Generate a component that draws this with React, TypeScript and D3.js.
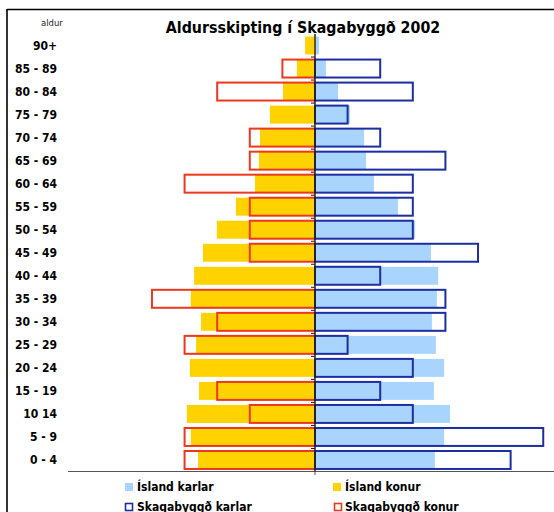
import React from "react";
import * as d3 from "d3";

const categories = ["90+", "85 - 89", "80 - 84", "75 - 79", "70 - 74", "65 - 69", "60 - 64", "55 - 59", "50 - 54", "45 - 49", "40 - 44", "35 - 39", "30 - 34", "25 - 29", "20 - 24", "15 - 19", "10 14", "5 - 9", "0 - 4"];
const islandKarlar = [0.12, 0.33, 0.7, 1.06, 1.49, 1.55, 1.79, 2.52, 3.04, 3.52, 3.74, 3.7, 3.55, 3.67, 3.92, 3.61, 4.1, 3.92, 3.64];
const islandKonur = [0.3, 0.55, 0.97, 1.37, 1.67, 1.7, 1.82, 2.4, 2.98, 3.4, 3.67, 3.77, 3.46, 3.61, 3.8, 3.52, 3.89, 3.77, 3.55];
const skagKarlar = [0, 1.98, 2.97, 0.99, 1.98, 3.96, 2.97, 2.97, 2.97, 4.95, 1.98, 3.96, 3.96, 0.99, 2.97, 1.98, 2.97, 6.93, 5.94];
const skagKonur = [0, 0.99, 2.97, 0, 1.98, 1.98, 3.96, 1.98, 1.98, 1.98, 0, 4.95, 2.97, 3.96, 0, 2.97, 1.98, 3.96, 3.96];
const title = "Aldursskipting í Skagabyggð 2002";
const yTitle = "aldur";
const legendLabels = ["Ísland karlar", "Ísland konur", "Skagabyggð karlar", "Skagabyggð konur"];

const C_LBLUE = "#a9d4fd";
const C_YELLOW = "#ffd200";
const C_NAVY = "#1c2ea2";
const C_RED = "#ec381c";
const FONT = "'DejaVu Sans Condensed', 'DejaVu Sans', sans-serif";

export default function App() {
  const W = 554, H = 512;
  const x = d3.scaleLinear().domain([-7.5, 7.5]).range([68, 562]);
  const y = d3.scaleBand<string>().domain(categories).range([34, 471.5]).paddingInner(0.22).paddingOuter(0.11);
  const bw = y.bandwidth();
  const x0 = x(0);
  const step = y.step();
  const top = y.range()[0];

  return (
    <svg width={W} height={H} style={{ position: "absolute", left: 0, top: 0, background: "#fff" }} fontFamily={FONT}>
      <rect x={0} y={0} width={W} height={H} fill="#fff" />
      {/* frame */}
      <line x1={7} y1={9.5} x2={W} y2={9.5} stroke="#000" strokeWidth={1.6} />
      <line x1={7} y1={9} x2={7} y2={H} stroke="#000" strokeWidth={1.6} />
      <text x={303} y={33} textAnchor="middle" fontWeight="bold" fontSize={15.8} fill="#000">{title}</text>
      <text x={41} y={26} fontSize={8.5} fill="#222" fontFamily="'DejaVu Sans', sans-serif">{yTitle}</text>

      {/* Iceland bars */}
      {categories.map((c, i) => (
        <g key={"is" + c}>
          <rect x={x(-islandKonur[i])} y={y(c)} width={x0 - x(-islandKonur[i])} height={bw} fill={C_YELLOW} />
          <rect x={x0} y={y(c)} width={x(islandKarlar[i]) - x0} height={bw} fill={C_LBLUE} />
        </g>
      ))}
      {/* Skagabyggd outlines */}
      {categories.map((c, i) => (
        <g key={"sk" + c}>
          {skagKonur[i] > 0 && (
            <rect x={x(-skagKonur[i])} y={y(c)} width={x0 - x(-skagKonur[i])} height={bw} fill="none" stroke={C_RED} strokeWidth={2} />
          )}
          {skagKarlar[i] > 0 && (
            <rect x={x0} y={y(c)} width={x(skagKarlar[i]) - x0} height={bw} fill="none" stroke={C_NAVY} strokeWidth={2} />
          )}
        </g>
      ))}
      {/* bottom axis */}
      <line x1={68} y1={471.5} x2={W} y2={471.5} stroke="#555" strokeWidth={1.2} />
      <line x1={x0} y1={471.5} x2={x0} y2={475} stroke="#555" strokeWidth={1} />
      {/* center axis */}
      <line x1={x0} y1={top} x2={x0} y2={471.5} stroke="#2a1a08" strokeWidth={1.4} />
      {d3.range(1, categories.length).map((k) => (
        <line key={"t" + k} x1={x0 - 4} x2={x0} y1={top + k * step} y2={top + k * step} stroke="#2a1a08" strokeWidth={1} />
      ))}
      {/* y labels */}
      {categories.map((c) => (
        <text key={"l" + c} x={57} y={(y(c) as number) + bw / 2 + 4.3} textAnchor="end" fontWeight="bold" fontSize={12} fill="#000">{c}</text>
      ))}
      {/* legend */}
      <rect x={125} y={483} width={8} height={8} fill={C_LBLUE} />
      <text x={137} y={491} fontWeight="bold" fontSize={12}>{legendLabels[0]}</text>
      <rect x={333} y={483} width={8} height={8} fill={C_YELLOW} />
      <text x={345} y={491} fontWeight="bold" fontSize={12}>{legendLabels[1]}</text>
      <rect x={125.5} y={503.5} width={7} height={7} fill="#fff" stroke={C_NAVY} strokeWidth={1.6} />
      <text x={137} y={511} fontWeight="bold" fontSize={12}>{legendLabels[2]}</text>
      <rect x={334.5} y={503.5} width={7} height={7} fill="#fff" stroke={C_RED} strokeWidth={1.6} />
      <text x={345} y={511} fontWeight="bold" fontSize={12}>{legendLabels[3]}</text>
    </svg>
  );
}
